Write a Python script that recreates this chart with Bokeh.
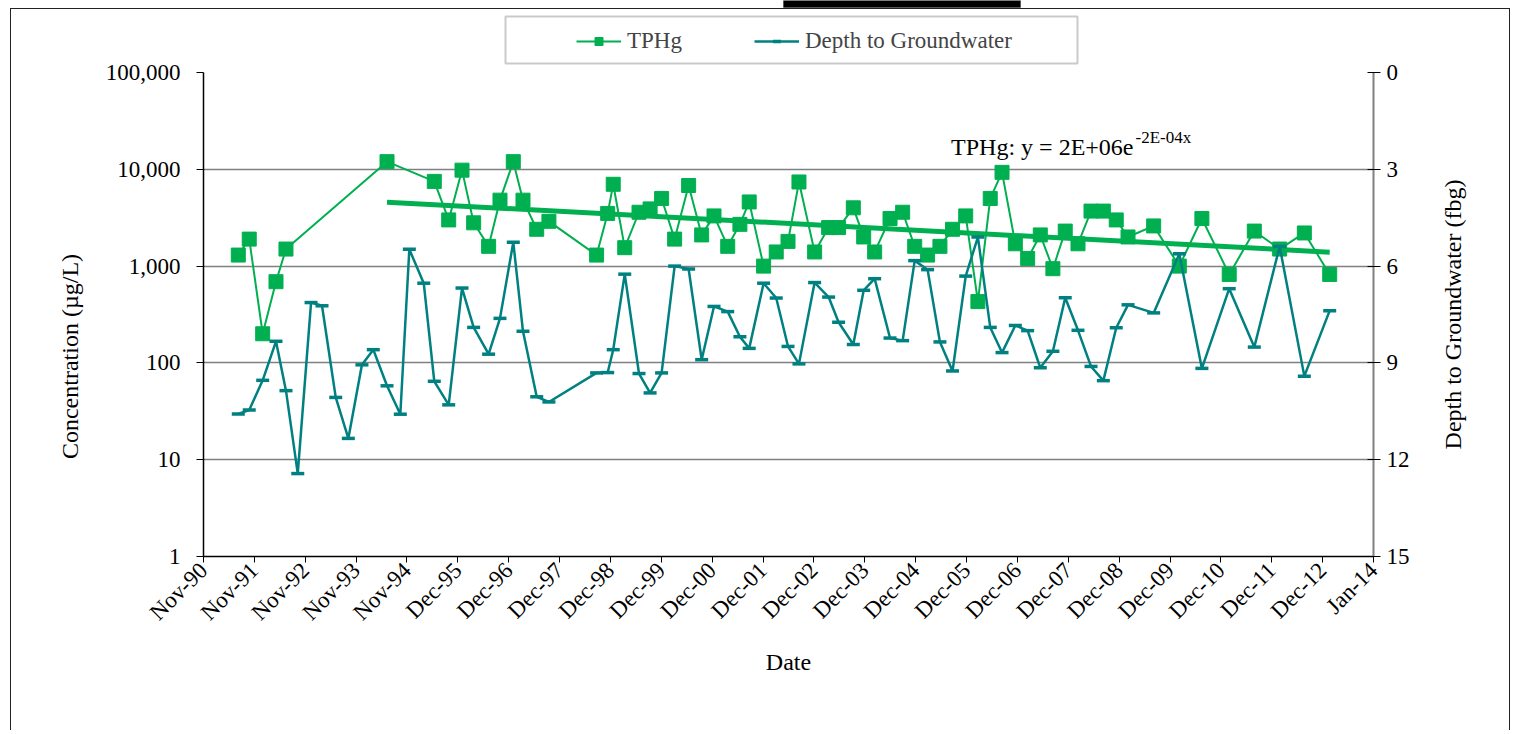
import math
import numpy as np
import pandas as pd
from bokeh.plotting import figure
from bokeh.layouts import row
from bokeh.models import (ColumnDataSource, Range1d, LinearScale, LinearAxis,
                          FixedTicker, Legend, LegendItem, Label, BoxAnnotation,
                          NumeralTickFormatter, CustomJSTickFormatter,
                          InlineStyleSheet)
from bokeh.embed import file_html
from bokeh.resources import INLINE

# ---------------- data ----------------
dates = [
    "1991-07-31", "1991-10-18", "1992-01-23", "1992-04-28", "1992-07-09",
    "1992-10-02", "1993-01-06", "1993-03-26", "1993-07-03", "1993-10-02",
    "1994-01-08", "1994-03-31", "1994-07-08", "1994-10-12", "1994-12-16",
    "1995-03-30", "1995-06-14", "1995-09-26", "1995-12-31", "1996-03-24",
    "1996-07-10", "1996-09-30", "1997-01-04", "1997-03-15", "1997-06-22",
    "1997-09-18", "1998-08-28", "1998-11-16", "1998-12-26", "1999-03-19",
    "1999-06-30", "1999-09-18", "1999-12-10", "2000-03-13", "2000-06-22",
    "2000-09-24", "2000-12-22", "2001-03-31", "2001-06-27", "2001-09-02",
    "2001-12-15", "2002-03-16", "2002-06-09", "2002-08-27", "2002-12-18",
    "2003-03-29", "2003-06-09", "2003-09-23", "2003-12-07", "2004-02-24",
    "2004-06-14", "2004-09-13", "2004-12-09", "2005-03-12", "2005-06-09",
    "2005-09-08", "2005-12-12", "2006-03-10", "2006-06-07", "2006-08-31",
    "2006-12-05", "2007-03-04", "2007-06-03", "2007-09-02", "2007-11-30",
    "2008-03-01", "2008-06-03", "2008-08-31", "2008-12-02", "2009-02-25",
    "2009-08-29", "2010-03-02", "2010-08-12", "2011-02-25", "2011-08-25",
    "2012-02-24", "2012-08-20", "2013-02-19",
]
tphg = [
    1300, 1900, 200, 690, 1500,
    None, None, None, None, None,
    None, None, 12000, None, None,
    None, 7500, 3000, 9800, 2800,
    1600, 4800, 12000, 4800, 2400,
    2900, 1300, 3500, 7000, 1550,
    3600, 3900, 5000, 1900, 6800,
    2100, 3300, 1600, 2700, 4600,
    1000, 1400, 1800, 7400, 1400,
    2500, 2500, 4000, 2000, 1400,
    3100, 3600, 1600, 1300, 1600,
    2400, 3300, 430, 5000, 9300,
    1700, 1200, 2100, 940, 2300,
    1700, 3700, 3700, 3000, 2000,
    2600, 1000, 3100, 820, 2300,
    1500, 2200, 820,
]
depth = [
    10.58, 10.46, 9.54, 8.33, 9.86,
    12.43, 7.13, 7.23, 10.07, 11.34,
    9.06, 8.59, 9.71, 10.59, 5.48,
    6.53, 9.57, 10.30, 6.68, 7.90,
    8.73, 7.62, 5.26, 8.02, 10.05,
    10.21, 9.31, 9.30, 8.59, 6.25,
    9.33, 9.93, 9.31, 6.00, 6.09,
    8.90, 7.25, 7.41, 8.19, 8.55,
    6.53, 6.99, 8.49, 9.03, 6.51,
    6.96, 7.74, 8.43, 6.75, 6.39,
    8.23, 8.31, 5.83, 6.11, 8.35,
    9.25, 6.31, 5.10, 7.90, 8.68,
    7.84, 8.00, 9.15, 8.64, 6.98,
    7.99, 9.11, 9.55, 7.91, 7.20,
    7.45, 5.62, 9.17, 6.70, 8.51,
    5.39, 9.41, 7.38,
]
x_tick_labels = ["Nov-90", "Nov-91", "Nov-92", "Nov-93", "Nov-94", "Dec-95",
                 "Dec-96", "Dec-97", "Dec-98", "Dec-99", "Dec-00", "Dec-01",
                 "Dec-02", "Dec-03", "Dec-04", "Dec-05", "Dec-06", "Dec-07",
                 "Dec-08", "Dec-09", "Dec-10", "Dec-11", "Dec-12", "Jan-14"]
x_axis_start = "1990-11-22"
x_tick_step_days = 367
conc_ticks = [1, 10, 100, 1000, 10000, 100000]
grid_ticks = [10, 100, 1000, 10000]
depth_ticks = [0, 3, 6, 9, 12, 15]
trend_start = "1994-07-01"
equation_main = "TPHg: y = 2E+06e"
equation_sup = "-2E-04x"
legend_labels = ["TPHg", "Depth to Groundwater"]
x_title = "Date"
y_title = "Concentration (µg/L)"
y2_title = "Depth to Groundwater (fbg)"

# ---------------- layout / styling ----------------
GREEN = "#00B050"
TEAL = "#008080"
FONT = "Liberation Serif"
TICK_FS = "23px"
TITLE_FS = "24px"
FRAME_L, FRAME_W = 203, 1170          # plot area left edge / width (px)
AXIS_TOP, AXIS_BOTTOM = 72, 556       # px of 100,000 and of 1
FRAME_H = AXIS_BOTTOM                 # frame runs from the canvas top
CANVAS_H = 730
MAIN_RIGHT = 40                       # room for right tick labels
SIDE_W = 99                           # strip holding the right axis title
SIDE_L = 70
decade_px = (AXIS_BOTTOM - AXIS_TOP) / (math.log10(conc_ticks[-1]) - math.log10(conc_ticks[0]))
depth_px = (AXIS_BOTTOM - AXIS_TOP) / (depth_ticks[-1] - depth_ticks[0])

df = pd.DataFrame({"date": pd.to_datetime(dates),
                   "tphg": pd.array(tphg, dtype="float"),
                   "depth": depth})
tp = df.dropna(subset=["tphg"])
tsrc = ColumnDataSource(dict(date=tp["date"].values, tphg=tp["tphg"].values))
dsrc = ColumnDataSource(dict(date=df["date"].values, depth=df["depth"].values))

# exponential trendline (least squares on log values)
tr = tp[tp["date"] >= pd.Timestamp(trend_start)]
tdays = (tr["date"] - pd.Timestamp("1900-01-01")).dt.days.values.astype(float)
k, b = np.polyfit(tdays, np.log(tr["tphg"].values), 1)
trend_x = np.array([tr["date"].values[0], tr["date"].values[-1]])
trend_y = np.exp(b + k * np.array([tdays[0], tdays[-1]]))

start = pd.Timestamp(x_axis_start)
x_ticks = [(start + pd.Timedelta(days=x_tick_step_days * i)).value / 1e6
           for i in range(len(x_tick_labels))]

y_top = 10 ** (math.log10(conc_ticks[-1]) + AXIS_TOP / decade_px)
d_top = depth_ticks[0] - AXIS_TOP / depth_px


def x_at(px):
    return x_ticks[0] + (px - FRAME_L) / FRAME_W * (x_ticks[-1] - x_ticks[0])


def y_at(py):
    return 10 ** (math.log10(conc_ticks[-1]) - (py - AXIS_TOP) / decade_px)


p = figure(x_axis_type="datetime", y_axis_type="log",
           x_range=Range1d(x_ticks[0], x_ticks[-1]),
           y_range=Range1d(conc_ticks[0], y_top),
           frame_width=FRAME_W, frame_height=FRAME_H,
           min_border_left=FRAME_L, min_border_right=MAIN_RIGHT,
           min_border_top=0, min_border_bottom=CANVAS_H - FRAME_H,
           output_backend="svg", toolbar_location=None)
p.background_fill_color = "white"
p.border_fill_color = "white"
p.outline_line_color = None

p.extra_y_ranges = {"depth": Range1d(start=depth_ticks[-1], end=d_top)}
p.extra_y_scales = {"depth": LinearScale()}

# grid
p.xgrid.grid_line_color = None
p.ygrid.ticker = FixedTicker(ticks=grid_ticks)
p.ygrid.grid_line_color = "#808080"
p.ygrid.grid_line_width = 1.5
p.ygrid.minor_grid_line_color = None

# renderers
tl = p.line("date", "tphg", source=tsrc, color=GREEN, line_width=2)
ts = p.scatter("date", "tphg", source=tsrc, marker="square", size=14,
               color=GREEN)
p.line(x=trend_x, y=trend_y, color=GREEN, line_width=5)
dl = p.line("date", "depth", source=dsrc, color=TEAL, line_width=2.5,
            y_range_name="depth")
dm = p.scatter("date", "depth", source=dsrc, marker="dash", size=13,
               line_width=3.5, color=TEAL, y_range_name="depth")

# x axis
xa = p.xaxis[0]
xa.ticker = FixedTicker(ticks=x_ticks)
xa.formatter = CustomJSTickFormatter(args=dict(labels=x_tick_labels),
                                     code="return labels[index] || '';")
xa.major_label_orientation = math.pi / 4
xa.axis_label = x_title
xa.axis_line_color = "black"
xa.axis_line_width = 1.5
xa.major_tick_line_color = "black"
xa.major_tick_out = 6
xa.major_tick_in = 0
xa.minor_tick_line_color = None
xa.major_label_standoff = 4
xa.axis_label_standoff = 12

# left axis (title padded so that it sits lower, as in the original)
ya = p.yaxis[0]
ya.ticker = FixedTicker(ticks=conc_ticks)
ya.bounds = (conc_ticks[0], conc_ticks[-1])
ya.formatter = NumeralTickFormatter(format="0,0")
ya.axis_label = y_title + "\u00a0" * 26
ya.axis_line_color = "black"
ya.axis_line_width = 1.5
ya.major_tick_line_color = "black"
ya.major_tick_out = 7
ya.major_tick_in = 0
ya.minor_tick_line_color = None
ya.major_label_standoff = 16
ya.axis_label_standoff = 20

# right axis
ra = LinearAxis(y_range_name="depth", ticker=FixedTicker(ticks=depth_ticks),
                bounds=(depth_ticks[0], depth_ticks[-1]))
ra.axis_line_color = "#808080"
ra.axis_line_width = 2
ra.major_tick_line_color = "black"
ra.major_tick_out = 7
ra.major_tick_in = 6
ra.minor_tick_line_color = None
ra.major_label_standoff = 6
p.add_layout(ra, "right")

for ax in (xa, ya, ra):
    ax.major_label_text_font = FONT
    ax.major_label_text_font_size = TICK_FS
    ax.major_label_text_color = "black"
    ax.axis_label_text_font = FONT
    ax.axis_label_text_font_size = TITLE_FS
    ax.axis_label_text_font_style = "normal"
    ax.axis_label_text_color = "black"

# legend (frame drawn separately)
leg = Legend(items=[LegendItem(label=legend_labels[0], renderers=[tl, ts]),
                    LegendItem(label=legend_labels[1], renderers=[dl, dm])],
             location=(577 - FRAME_L - 1, AXIS_BOTTOM - 62 + 8),
             orientation="horizontal",
             border_line_color=None, background_fill_alpha=0,
             label_text_font=FONT, label_text_font_size="23px",
             glyph_width=45, label_standoff=6, spacing=72,
             padding=11, margin=0)
p.add_layout(leg, "center")

p.add_layout(BoxAnnotation(left=x_at(505), right=x_at(1077),
                           top=y_at(16), bottom=y_at(63),
                           fill_color=None, line_color="#505050",
                           line_width=2))
# black bar at the top (cropped title block)
p.add_layout(BoxAnnotation(left=x_at(783), right=x_at(1020),
                           top=y_at(-2), bottom=y_at(7),
                           fill_color="black", fill_alpha=1,
                           line_color="black"))

# trendline equation
eq_x, eq_y = x_at(1133), y_at(146)
p.add_layout(Label(x=eq_x, y=eq_y, text=equation_main, text_align="right",
                   text_baseline="alphabetic", text_font=FONT,
                   text_font_size="24px", text_color="black"))
p.add_layout(Label(x=eq_x, y=eq_y, x_offset=2, y_offset=9, text=equation_sup,
                   text_align="left", text_baseline="alphabetic",
                   text_font=FONT, text_font_size="17px", text_color="black"))

# strip to the right carrying the secondary axis title (reads bottom-to-top);
# its frame matches the main frame so the row keeps both aligned
side = figure(x_range=Range1d(0, 1), y_range=Range1d(0, 1),
              frame_width=SIDE_W - SIDE_L, frame_height=FRAME_H,
              min_border_left=SIDE_L, min_border_right=0,
              min_border_top=0, min_border_bottom=CANVAS_H - FRAME_H,
              output_backend="svg", toolbar_location=None)
side.outline_line_color = None
side.grid.visible = False
side.xaxis.visible = False
sa = side.yaxis[0]
sa.ticker = FixedTicker(ticks=[])
sa.axis_line_color = None
sa.major_tick_line_color = None
sa.minor_tick_line_color = None
sa.major_label_text_font_size = "0px"
sa.major_label_standoff = 0
sa.major_tick_out = 0
# trailing no-break spaces move the visible title down to the axis centre
sa.axis_label = y2_title + "\u00a0" * 12
sa.axis_label_text_font = FONT
sa.axis_label_text_font_size = TITLE_FS
sa.axis_label_text_font_style = "normal"
sa.axis_label_text_color = "black"
sa.axis_label_standoff = 18

layout = row(p, side, spacing=0)
# outer chart border
layout.stylesheets = [InlineStyleSheet(css="""
:host { position: relative; }
:host::after { content: ""; position: absolute; left: 10px; top: 8px;
  right: 2px; bottom: 0px; border: 1.5px solid #222; border-bottom: none;
  pointer-events: none; }
""")]

open("out.html", "w").write(file_html(layout, INLINE))
